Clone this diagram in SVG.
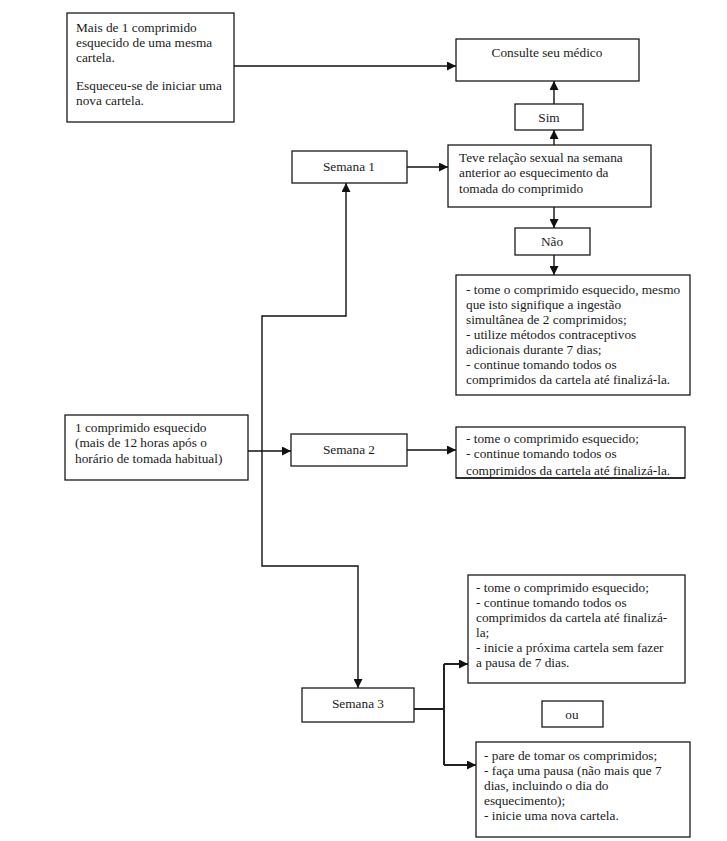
<svg xmlns="http://www.w3.org/2000/svg" width="727" height="841" viewBox="0 0 727 841" font-family="'Liberation Serif', 'Times New Roman', serif" font-size="13.3">
<style>
.box{fill:#fff;stroke:#1a1a1a;stroke-width:1.3}
text{font-family:'Liberation Serif','Times New Roman',serif;font-size:13.3px;fill:#1a1a1a}
.c{text-anchor:middle}
.ln{fill:none;stroke:#111;stroke-width:1.4}
.ln2{fill:none;stroke:#222;stroke-width:2}
</style>
<defs>
<marker id="ah" markerUnits="userSpaceOnUse" markerWidth="10" markerHeight="9" refX="9" refY="4.5" orient="auto">
<path d="M0,0 L9,4.5 L0,9 z" fill="#111"/>
</marker>
<clipPath id="clip2"><rect x="456" y="427" width="229" height="51"/></clipPath>
</defs>
<rect width="727" height="841" fill="#fff"/>

<g id="connectors">
<path class="ln" d="M234,66 H456" marker-end="url(#ah)"/>
<path class="ln" d="M554,104 V81" marker-end="url(#ah)"/>
<path class="ln" d="M554,145 V130" marker-end="url(#ah)"/>
<path class="ln" d="M554,207 V228" marker-end="url(#ah)"/>
<path class="ln" d="M554,255 V275" marker-end="url(#ah)"/>
<path class="ln" d="M407,167 H448" marker-end="url(#ah)"/>
<path class="ln" d="M262,450 V316 H346 V183" marker-end="url(#ah)"/>
<path class="ln" d="M262,450 V566 H358 V688" marker-end="url(#ah)"/>
<path class="ln" d="M248,451 H291" marker-end="url(#ah)"/>
<path class="ln" d="M407,450 H456" marker-end="url(#ah)"/>
<path class="ln2" d="M414,709 H444"/>
<path class="ln2" d="M444,664 V765"/>
<path class="ln2" d="M444,664 H468" marker-end="url(#ah)"/>
<path class="ln2" d="M444,765 H476" marker-end="url(#ah)"/>
</g>

<g id="n-esquecido-mais">
<rect class="box" x="67" y="13" width="167" height="109"/>
<text x="76" y="32">Mais de 1 comprimido</text>
<text x="76" y="47">esquecido de uma mesma</text>
<text x="76" y="62">cartela.</text>
<text x="76" y="90">Esqueceu-se de iniciar uma</text>
<text x="76" y="105">nova cartela.</text>
</g>

<g id="n-consulte">
<rect class="box" x="456" y="39" width="183" height="42"/>
<text class="c" x="547" y="57">Consulte seu médico</text>
</g>

<g id="n-sim">
<rect class="box" x="515" y="104" width="68" height="26"/>
<text class="c" x="549" y="122">Sim</text>
</g>

<g id="n-semana1">
<rect class="box" x="292" y="151" width="115" height="32"/>
<text class="c" x="349" y="171">Semana 1</text>
</g>

<g id="n-teve">
<rect class="box" x="448" y="145" width="203" height="62"/>
<text x="459" y="162">Teve relação sexual na semana</text>
<text x="459" y="177">anterior ao esquecimento da</text>
<text x="459" y="193">tomada do comprimido</text>
</g>

<g id="n-nao">
<rect class="box" x="515" y="228" width="75" height="27"/>
<text class="c" x="552" y="246">Não</text>
</g>

<g id="n-semana1-acoes">
<rect class="box" x="456" y="275" width="234" height="120"/>
<text x="466" y="294">- tome o comprimido esquecido, mesmo</text>
<text x="466" y="309">que isto signifique a ingestão</text>
<text x="466" y="324">simultânea de 2 comprimidos;</text>
<text x="466" y="339">- utilize métodos contraceptivos</text>
<text x="466" y="354">adicionais durante 7 dias;</text>
<text x="466" y="369">- continue tomando todos os</text>
<text x="466" y="384">comprimidos da cartela até finalizá-la.</text>
</g>

<g id="n-um-comprimido">
<rect class="box" x="65" y="415" width="183" height="65"/>
<text x="75" y="432">1 comprimido esquecido</text>
<text x="75" y="447">(mais de 12 horas após o</text>
<text x="75" y="463">horário de tomada habitual)</text>
</g>

<g id="n-semana2">
<rect class="box" x="291" y="434" width="116" height="32"/>
<text class="c" x="349" y="454">Semana 2</text>
</g>

<g id="n-semana2-acoes">
<rect class="box" x="456" y="427" width="229" height="51"/>
<g clip-path="url(#clip2)">
<text x="466" y="443">- tome o comprimido esquecido;</text>
<text x="466" y="458">- continue tomando todos os</text>
<text x="466" y="475">comprimidos da cartela até finalizá-la.</text>
</g>
<path d="M456,478 H685" stroke="#1a1a1a" stroke-width="1.3"/>
</g>

<g id="n-semana3">
<rect class="box" x="302" y="688" width="112" height="34"/>
<text class="c" x="358" y="708">Semana 3</text>
</g>

<g id="n-semana3-opcao1">
<rect class="box" x="468" y="575" width="217" height="108"/>
<text x="476" y="592">- tome o comprimido esquecido;</text>
<text x="476" y="607">- continue tomando todos os</text>
<text x="476" y="622">comprimidos da cartela até finalizá-</text>
<text x="476" y="637">la;</text>
<text x="476" y="652">- inicie a próxima cartela sem fazer</text>
<text x="476" y="667">a pausa de 7 dias.</text>
</g>

<g id="n-ou">
<rect class="box" x="542" y="701" width="61" height="26"/>
<text class="c" x="572" y="719">ou</text>
</g>

<g id="n-semana3-opcao2">
<rect class="box" x="476" y="742" width="214" height="95"/>
<text x="484" y="760">- pare de tomar os comprimidos;</text>
<text x="484" y="775">- faça uma pausa (não mais que 7</text>
<text x="484" y="790">dias, incluindo o dia do</text>
<text x="484" y="805">esquecimento);</text>
<text x="484" y="820">- inicie uma nova cartela.</text>
</g>
</svg>
